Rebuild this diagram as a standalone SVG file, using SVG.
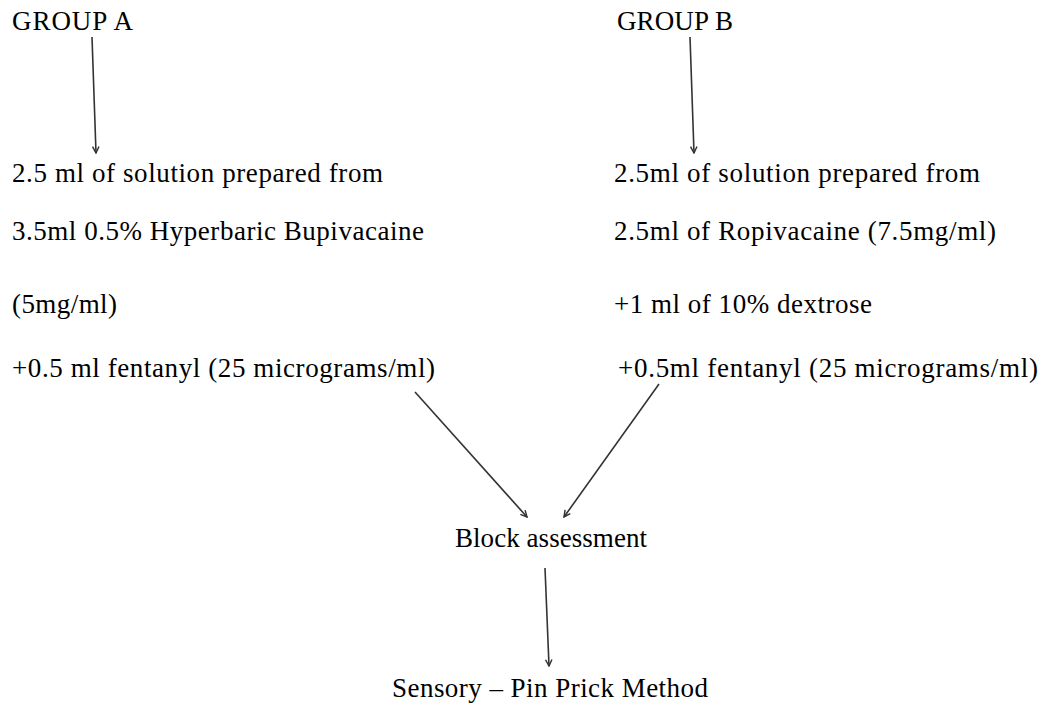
<svg xmlns="http://www.w3.org/2000/svg" width="1041" height="706" viewBox="0 0 1041 706">
<style>
text{font-family:"Liberation Serif","Times New Roman",serif;font-size:27px;fill:#000}
.c{stroke:#333;stroke-width:1.6;fill:none}
</style>
<defs>
<marker id="ah" viewBox="0 0 10 10" refX="9" refY="5" markerWidth="8" markerHeight="8" markerUnits="userSpaceOnUse" orient="auto">
<path d="M1,1 L9,5 L1,9" fill="none" stroke="#333" stroke-width="1.8"/>
</marker>
</defs>
<rect width="1041" height="706" fill="#fff"/>
<g id="groupA"><text x="12" y="30" textLength="121" lengthAdjust="spacing">GROUP A</text></g>
<g id="groupB"><text x="617" y="30" textLength="116" lengthAdjust="spacing">GROUP B</text></g>
<g id="solutionA">
<text x="12" y="182" textLength="371" lengthAdjust="spacing">2.5 ml of solution prepared from</text>
<text x="12" y="240" textLength="412" lengthAdjust="spacing">3.5ml 0.5% Hyperbaric Bupivacaine</text>
<text x="12" y="313" textLength="105" lengthAdjust="spacing">(5mg/ml)</text>
<text x="12" y="377" textLength="423" lengthAdjust="spacing">+0.5 ml fentanyl  (25 micrograms/ml)</text>
</g>
<g id="solutionB">
<text x="614" y="182" textLength="366" lengthAdjust="spacing">2.5ml of solution prepared from</text>
<text x="614" y="240" textLength="382" lengthAdjust="spacing">2.5ml of Ropivacaine  (7.5mg/ml)</text>
<text x="614" y="313" textLength="258" lengthAdjust="spacing">+1 ml of 10% dextrose</text>
<text x="618" y="377" textLength="420" lengthAdjust="spacing">+0.5ml fentanyl (25 micrograms/ml)</text>
</g>
<g id="block"><text x="455" y="547" textLength="192" lengthAdjust="spacing">Block assessment</text></g>
<g id="sensory"><text x="392" y="697" textLength="316" lengthAdjust="spacing">Sensory – Pin Prick Method</text></g>
<g id="connectors">
<line class="c" x1="92" y1="37" x2="96" y2="153" marker-end="url(#ah)"/>
<line class="c" x1="690" y1="37" x2="694" y2="153" marker-end="url(#ah)"/>
<line class="c" x1="415" y1="392" x2="527" y2="517" marker-end="url(#ah)"/>
<line class="c" x1="659" y1="384" x2="564" y2="517" marker-end="url(#ah)"/>
<line class="c" x1="545" y1="568" x2="549" y2="666" marker-end="url(#ah)"/>
</g>
</svg>
